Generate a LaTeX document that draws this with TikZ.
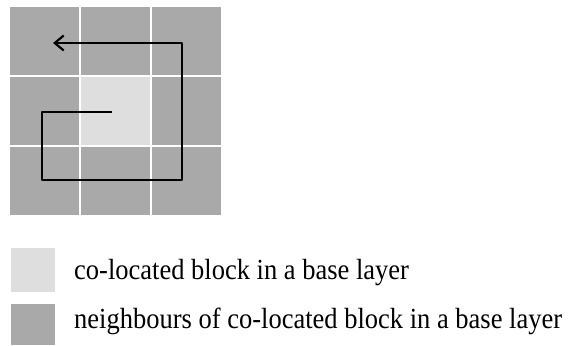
\documentclass[tikz,border=0pt]{standalone}
\usepackage{fontspec}
\setmainfont{Liberation Serif}
\usetikzlibrary{positioning,arrows.meta}
\definecolor{nbgray}{HTML}{A9A9A9}
\definecolor{colgray}{HTML}{DEDEDE}
\newcommand{\keylabel}[1]{\scalebox{1}[1.1]{#1}}
\begin{document}
\begin{tikzpicture}[x=1pt,y=-1pt,line join=round,>={Straight Barb[length=9pt,width=15pt]},font=\fontsize{26.5}{30}\selectfont,
cell/.style={fill=nbgray,inner sep=0pt,minimum width=69pt,minimum height=68pt,anchor=north west},
key/.style={inner sep=0pt,minimum size=44pt,anchor=north west},
keytext/.style={inner sep=0pt,anchor=base west}]
\useasboundingbox (0,0) rectangle (569,345);
\def\px{71} \def\py{70}
\foreach \i in {0,1,2}
\foreach \j in {0,1,2}
\node[cell] (c\i\j) at ({10+\px*\i},{7+\py*\j}) {};
\node[cell,fill=colgray] at (c11.north west) {};
% scan order around the co-located block
\coordinate (s0) at (112,112);
\coordinate (s1) at (42,112);
\coordinate (s2) at (42,180);
\coordinate (s3) at (182,180);
\coordinate (s4) at (182,43);
\coordinate (s5) at (53,43);
\draw[->,line width=2.2pt] (s0)--(s1)--(s2)--(s3)--(s4)--(s5);
% legend
\node[key,fill=colgray] (k1) at (11,248) {};
\node[key,fill=nbgray,minimum height=41pt] (k2) at (11,304) {};
\node[keytext] (t1) at (74,279) {\keylabel{co-located block in a base layer}};
\node[keytext] (t2) at (74,328) {\keylabel{neighbours of co-located block in a base layer}};
\end{tikzpicture}
\end{document}
